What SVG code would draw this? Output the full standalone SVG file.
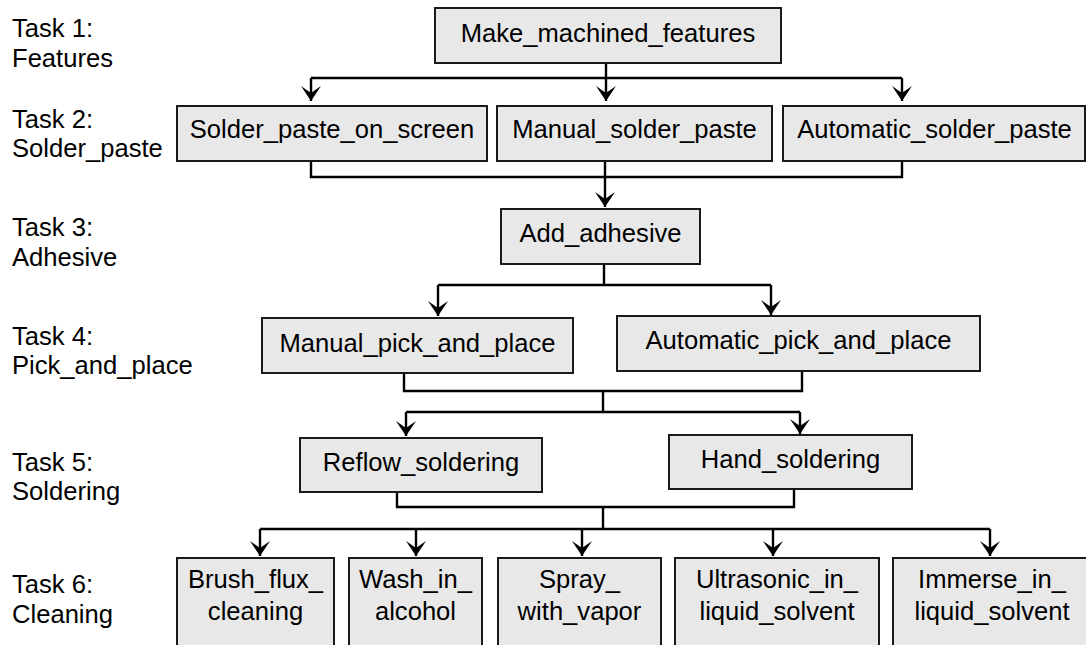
<svg xmlns="http://www.w3.org/2000/svg" width="1086" height="645" viewBox="0 0 1086 645">
<style>
.box{fill:#e8e8e8;stroke:#1a1a1a;stroke-width:2}
.t{font-family:"Liberation Sans",Arial,sans-serif;font-size:25.6px;fill:#000}
.c{text-anchor:middle}
.ln{fill:none;stroke:#000;stroke-width:2.4}
</style>
<defs>
<marker id="ah" viewBox="-16 -11 17 22" markerWidth="17" markerHeight="22" refX="0" refY="0" orient="auto" markerUnits="userSpaceOnUse">
<path d="M0,0 L-15,-10 L-8,0 L-15,10 Z" fill="#000"/>
</marker>
</defs>
<rect width="1086" height="645" fill="#fff"/>
<g id="labels" class="t">
<text x="12" y="37">Task 1:</text><text x="12" y="67">Features</text>
<text x="12" y="128">Task 2:</text><text x="12" y="157">Solder_paste</text>
<text x="12" y="236">Task 3:</text><text x="12" y="266">Adhesive</text>
<text x="12" y="345">Task 4:</text><text x="12" y="374">Pick_and_place</text>
<text x="12" y="471">Task 5:</text><text x="12" y="500">Soldering</text>
<text x="12" y="593">Task 6:</text><text x="12" y="623">Cleaning</text>
</g>
<g id="connectors">
<path class="ln" d="M606,63 V78 M311,78 H902 M605,161 V177 M311,161 V177 H902 V161 M604,264 V285 M438,285 H771 M404,373 V391 H802 V371 M603,391 V412 M406,412 H800 M397,492 V507 H794 V489 M603,507 V529 M260,529 H990"/>
<path class="ln" marker-end="url(#ah)" d="M311,78 V101"/>
<path class="ln" marker-end="url(#ah)" d="M606,78 V101"/>
<path class="ln" marker-end="url(#ah)" d="M902,78 V101"/>
<path class="ln" marker-end="url(#ah)" d="M605,177 V207"/>
<path class="ln" marker-end="url(#ah)" d="M438,285 V316"/>
<path class="ln" marker-end="url(#ah)" d="M771,285 V315"/>
<path class="ln" marker-end="url(#ah)" d="M406,412 V436"/>
<path class="ln" marker-end="url(#ah)" d="M800,412 V434"/>
<path class="ln" marker-end="url(#ah)" d="M260,529 V556"/>
<path class="ln" marker-end="url(#ah)" d="M416,529 V556"/>
<path class="ln" marker-end="url(#ah)" d="M582,529 V556"/>
<path class="ln" marker-end="url(#ah)" d="M773,529 V556"/>
<path class="ln" marker-end="url(#ah)" d="M990,529 V556"/>
</g>
<g id="make_machined_features"><rect class="box" x="435" y="8" width="346" height="55"/><text class="t c" x="608" y="42">Make_machined_features</text></g>
<g id="solder_paste_on_screen"><rect class="box" x="177" y="106" width="310" height="55"/><text class="t c" x="332" y="138">Solder_paste_on_screen</text></g>
<g id="manual_solder_paste"><rect class="box" x="497" y="106" width="275" height="55"/><text class="t c" x="634.5" y="138">Manual_solder_paste</text></g>
<g id="automatic_solder_paste"><rect class="box" x="783" y="106" width="302" height="55"/><text class="t c" x="934.5" y="138">Automatic_solder_paste</text></g>
<g id="add_adhesive"><rect class="box" x="501" y="209" width="199" height="55"/><text class="t c" x="600.5" y="242">Add_adhesive</text></g>
<g id="manual_pick_and_place"><rect class="box" x="262" y="318" width="311" height="55"/><text class="t c" x="417.5" y="352">Manual_pick_and_place</text></g>
<g id="automatic_pick_and_place"><rect class="box" x="617" y="316" width="363" height="55"/><text class="t c" x="798.5" y="349">Automatic_pick_and_place</text></g>
<g id="reflow_soldering"><rect class="box" x="300" y="438" width="242" height="54"/><text class="t c" x="421" y="471">Reflow_soldering</text></g>
<g id="hand_soldering"><rect class="box" x="669" y="435" width="243" height="54"/><text class="t c" x="790.5" y="468">Hand_soldering</text></g>
<g id="brush_flux_cleaning"><rect class="box" x="177" y="558" width="157" height="92"/><text class="t c" x="255.5" y="588">Brush_flux_</text><text class="t c" x="255.5" y="620">cleaning</text></g>
<g id="wash_in_alcohol"><rect class="box" x="349" y="558" width="133" height="92"/><text class="t c" x="415.5" y="588">Wash_in_</text><text class="t c" x="415.5" y="620">alcohol</text></g>
<g id="spray_with_vapor"><rect class="box" x="498" y="558" width="163" height="92"/><text class="t c" x="579.5" y="588">Spray_</text><text class="t c" x="579.5" y="620">with_vapor</text></g>
<g id="ultrasonic_in_liquid_solvent"><rect class="box" x="675" y="558" width="204" height="92"/><text class="t c" x="777" y="588">Ultrasonic_in_</text><text class="t c" x="777" y="620">liquid_solvent</text></g>
<g id="immerse_in_liquid_solvent"><rect class="box" x="893" y="558" width="198" height="92"/><text class="t c" x="992" y="588">Immerse_in_</text><text class="t c" x="992" y="620">liquid_solvent</text></g>
</svg>
